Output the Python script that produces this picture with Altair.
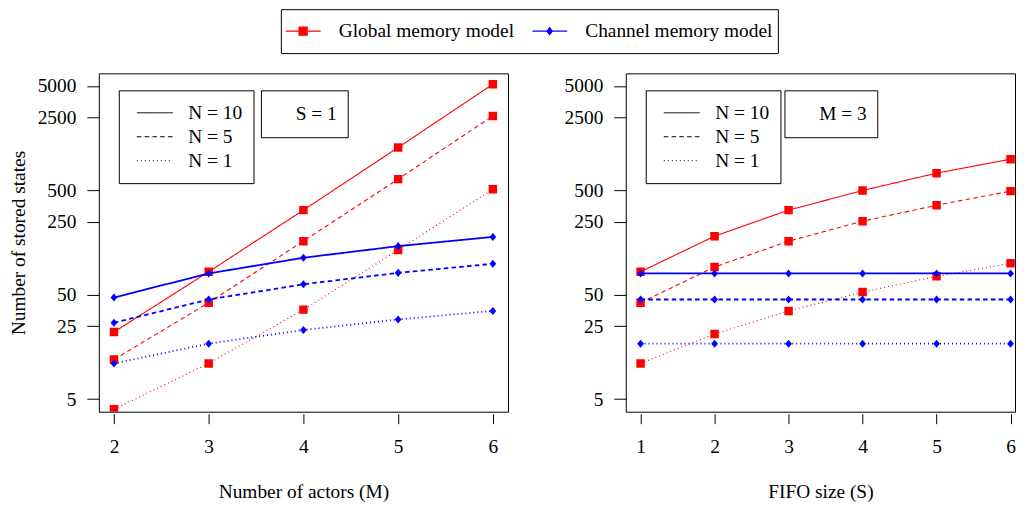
import altair as alt
import pandas as pd

FONT = "Liberation Serif"
FS = 19.4

models = ["Global memory model", "Channel memory model"]
n_labels = ["N = 10", "N = 5", "N = 1"]
y_ticks = [5, 25, 50, 250, 500, 2500, 5000]

# Left panel: S = 1, x = number of actors M
actors_M = [2, 3, 4, 5, 6]
global_M_n10 = [22, 83, 323, 1285, 5190]
global_M_n5 = [12, 42, 163, 640, 2580]
global_M_n1 = [4, 11, 36, 134, 512]
channel_M_n10 = [47, 80, 113, 146, 179]
channel_M_n5 = [27, 45, 63, 81, 99]
channel_M_n1 = [11, 17, 23, 29, 35]

# Right panel: M = 3, x = FIFO size S
fifo_S = [1, 2, 3, 4, 5, 6]
global_S_n10 = [83, 182, 323, 498, 730, 993]
global_S_n5 = [42, 92, 163, 253, 360, 491]
global_S_n1 = [11, 21, 35, 53, 75, 100]
channel_S_n10 = [80, 80, 80, 80, 80, 80]
channel_S_n5 = [45, 45, 45, 45, 45, 45]
channel_S_n1 = [17, 17, 17, 17, 17, 17]


def table(xs, series):
    rows = []
    for model, nlab, vals in series:
        for xv, v in zip(xs, vals):
            rows.append({"x": xv, "v": v, "model": model, "N": nlab})
    return pd.DataFrame(rows)


df_left = table(actors_M, [
    (models[0], "N = 10", global_M_n10), (models[0], "N = 5", global_M_n5), (models[0], "N = 1", global_M_n1),
    (models[1], "N = 10", channel_M_n10), (models[1], "N = 5", channel_M_n5), (models[1], "N = 1", channel_M_n1),
])
df_right = table(fifo_S, [
    (models[0], "N = 10", global_S_n10), (models[0], "N = 5", global_S_n5), (models[0], "N = 1", global_S_n1),
    (models[1], "N = 10", channel_S_n10), (models[1], "N = 5", channel_S_n5), (models[1], "N = 1", channel_S_n1),
])

RED = "#ff0000"
BLUE = "#0000ff"
SQUARE = "M-1,-1H1V1H-1Z"
DIAMOND = "M0,-0.95L0.8,0L0,0.95L-0.8,0Z"
LEG_SQUARE = "M-4.4,0H4.4M-1,-1H1V1H-1Z"
LEG_DIAMOND = "M-4.4,0H4.4M0,-0.85L0.65,0L0,0.85L-0.65,0Z"


def top_legend():
    return alt.Legend(title=None, orient="none", legendX=182.4, legendY=-64.3,
                      direction="horizontal", columns=2, strokeColor="black", fillColor="white",
                      padding=5, clipHeight=34, columnPadding=18, symbolSize=64, symbolOffset=7.6,
                      symbolStrokeWidth=1.3, labelOffset=26, labelFont=FONT, labelFontSize=FS,
                      labelColor="black", labelLimit=400)


def panel(df, xdom, xvals, xtitle, ytitle, param, param_x, width):
    base = alt.Chart(df)
    x = alt.X("x:Q", scale=alt.Scale(domain=xdom, nice=False, zero=False),
              axis=alt.Axis(values=xvals, format="d", title=xtitle, offset=2, tickSize=10,
                            labelPadding=13.7, titlePadding=27, labelFlush=False, labelOverlap=False))
    y = alt.Y("v:Q", scale=alt.Scale(type="log", domain=[3.793, 6591.5], nice=False),
              axis=alt.Axis(values=y_ticks, format="d", title=ytitle, tickSize=12, labelPadding=11,
                            titlePadding=8.3, labelFlush=False, labelOverlap=False))
    dash = alt.StrokeDash(
        "N:N",
        scale=alt.Scale(domain=n_labels, range=[[1, 0], [4.5, 3.3], [1, 3]]),
        legend=alt.Legend(title=None, orient="none", legendX=20, legendY=17,
                          strokeColor="black", fillColor="white", padding=10.5, rowPadding=0,
                          clipHeight=24, symbolType="M-3.6,0H3.6", symbolSize=100,
                          symbolStrokeColor="black", symbolStrokeWidth=1, symbolOffset=15.9,
                          labelOffset=23.8, labelFont=FONT, labelFontSize=FS, labelColor="black",
                          labelLimit=400),
    )

    red = base.transform_filter(alt.datum.model == models[0])
    blue = base.transform_filter(alt.datum.model == models[1])
    red_lines = red.mark_line(color=RED, strokeWidth=1.1, clip=True).encode(x=x, y=y, strokeDash=dash)
    blue_lines = blue.mark_line(color=BLUE, strokeWidth=1.8, clip=True).encode(x=x, y=y, strokeDash=dash)
    red_pts = red.mark_point(filled=True, size=72, opacity=1, strokeWidth=0, clip=True,
                             shape=SQUARE, color=RED).encode(x=x, y=y)
    blue_pts = blue.mark_point(filled=True, size=72, opacity=1, strokeWidth=0, clip=True,
                               shape=DIAMOND, color=BLUE).encode(x=x, y=y)
    # legend-only layer (no rows drawn): model key with line + marker symbols
    key = base.transform_filter("false").mark_point(filled=True, opacity=1, strokeWidth=1.3).encode(
        x=x, y=y,
        fill=alt.Fill("model:N", scale=alt.Scale(domain=models, range=[RED, BLUE]), legend=top_legend()),
        stroke=alt.Stroke("model:N", scale=alt.Scale(domain=models, range=[RED, BLUE]), legend=top_legend()),
        shape=alt.Shape("model:N", scale=alt.Scale(domain=models, range=[LEG_SQUARE, LEG_DIAMOND]),
                        legend=top_legend()),
    )
    # legend-only layer: parameter box ("S = 1" / "M = 3")
    par = base.transform_filter("false").mark_point(filled=True, opacity=1, strokeWidth=0).encode(
        x=x, y=y,
        color=alt.Color("model:N", scale=alt.Scale(domain=[param], range=["white"]),
                        legend=alt.Legend(title=None, orient="none", legendX=param_x, legendY=17,
                                          strokeColor="black", fillColor="white", padding=10.5,
                                          clipHeight=25.7, symbolSize=100, symbolOffset=0,
                                          labelOffset=5, symbolStrokeWidth=0, symbolOpacity=0,
                                          labelFont=FONT, labelFontSize=FS, labelColor="black",
                                          labelLimit=400)),
    )
    return alt.layer(red_lines, red_pts, blue_lines, blue_pts, key, par).properties(width=width, height=339)


left = panel(df_left, [1.84, 6.16], actors_M, "Number of actors (M)", "Number of stored states",
             "S = 1", 162.4, 410)
right = panel(df_right, [0.8, 6.06], fifo_S, "FIFO size (S)", None, "M = 3", 159, 390)

chart = (
    alt.hconcat(left, right, spacing=54)
    .resolve_scale(strokeDash="independent", color="independent")
    .resolve_legend(strokeDash="independent", color="independent")
    .properties(padding={"left": 0, "top": 0, "right": 0, "bottom": 0})
    .configure(font=FONT)
    .configure_view(stroke="black", strokeWidth=1)
    .configure_axis(grid=False, domain=False, labelFont=FONT, labelFontSize=FS, labelColor="black",
                    titleFont=FONT, titleFontSize=FS, titleFontWeight="normal", titleColor="black",
                    tickColor="black", tickWidth=1)
)

chart.save("out.html", embed_options={"renderer": "svg", "actions": False})
